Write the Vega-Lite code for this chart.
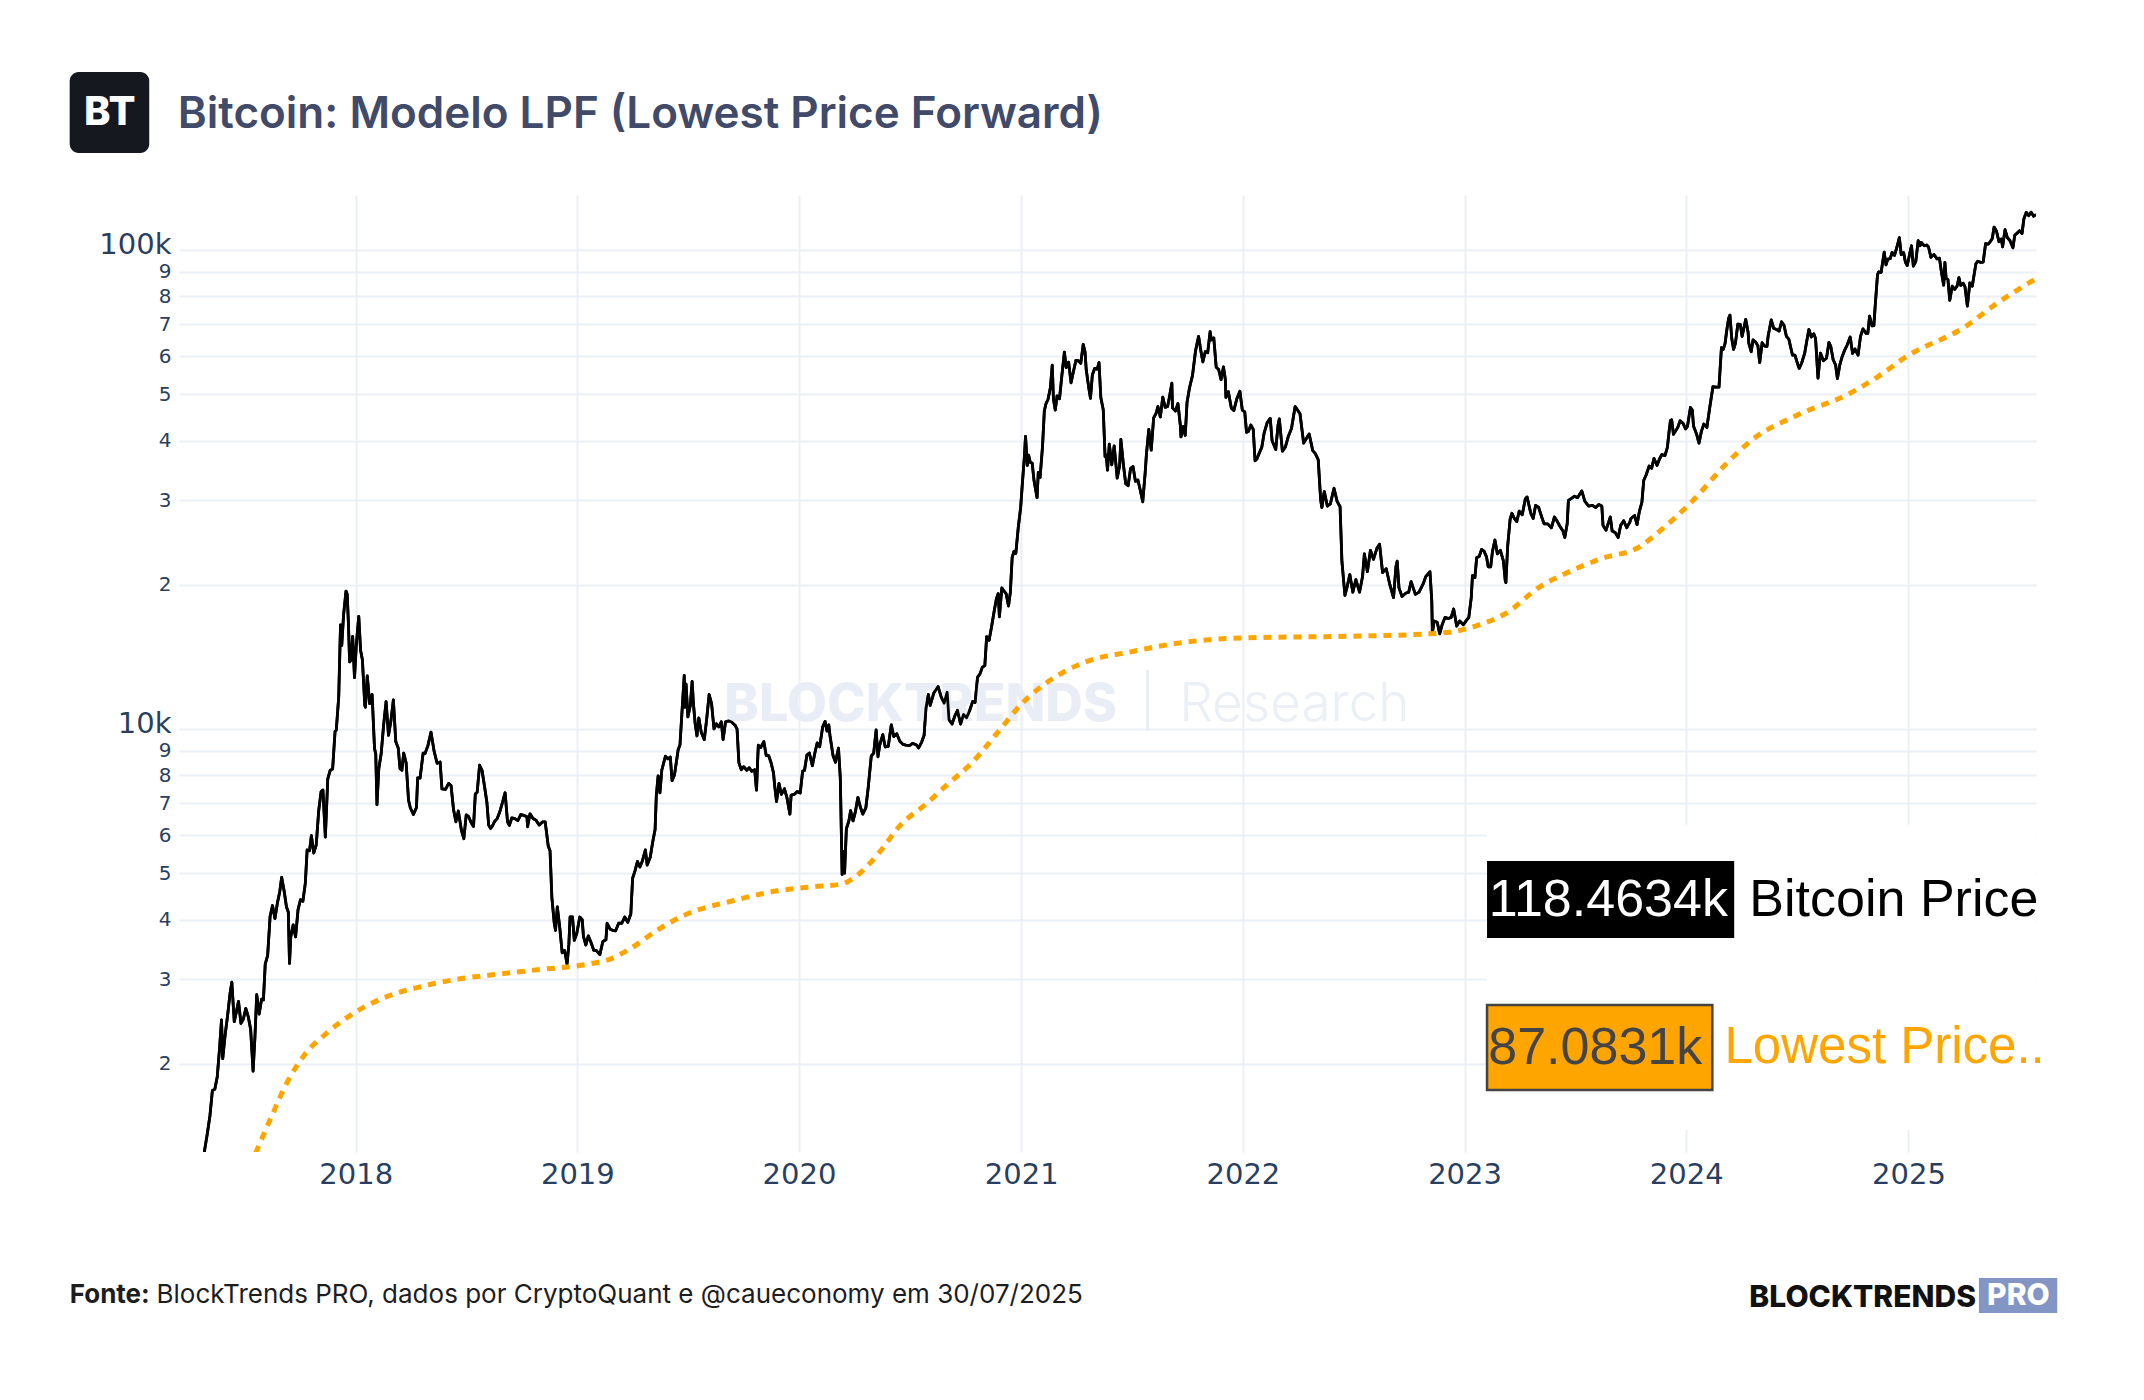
{
  "$schema": "https://vega.github.io/schema/vega-lite/v6.json",
  "width": 1857,
  "height": 957,
  "autosize": {"type": "none"},
  "padding": {"left": 179, "top": 195, "right": 108, "bottom": 248},
  "background": "#ffffff",
  "config": {"view": {"stroke": null}},
  "datasets": {
    "btc": [
      {"d":"2017-04-24","p":1250},{"d":"2017-04-28","p":1340},{"d":"2017-05-02","p":1440},{"d":"2017-05-06","p":1560},{"d":"2017-05-10","p":1760},{"d":"2017-05-14","p":1770},{"d":"2017-05-18","p":1880},{"d":"2017-05-22","p":2170},{"d":"2017-05-25","p":2470},{"d":"2017-05-27","p":2050},{"d":"2017-05-31","p":2300},{"d":"2017-06-04","p":2520},{"d":"2017-06-08","p":2800},{"d":"2017-06-11","p":2960},{"d":"2017-06-15","p":2450},{"d":"2017-06-18","p":2550},{"d":"2017-06-22","p":2700},{"d":"2017-06-26","p":2430},{"d":"2017-06-30","p":2480},{"d":"2017-07-04","p":2610},{"d":"2017-07-08","p":2510},{"d":"2017-07-12","p":2360},{"d":"2017-07-16","p":1930},{"d":"2017-07-19","p":2270},{"d":"2017-07-22","p":2790},{"d":"2017-07-26","p":2540},{"d":"2017-07-30","p":2730},{"d":"2017-08-02","p":2720},{"d":"2017-08-05","p":3230},{"d":"2017-08-09","p":3370},{"d":"2017-08-13","p":4060},{"d":"2017-08-17","p":4280},{"d":"2017-08-21","p":4020},{"d":"2017-08-25","p":4330},{"d":"2017-08-29","p":4580},{"d":"2017-09-01","p":4900},{"d":"2017-09-05","p":4600},{"d":"2017-09-09","p":4250},{"d":"2017-09-12","p":4150},{"d":"2017-09-14","p":3240},{"d":"2017-09-16","p":3680},{"d":"2017-09-20","p":3900},{"d":"2017-09-24","p":3680},{"d":"2017-09-28","p":4190},{"d":"2017-10-02","p":4400},{"d":"2017-10-06","p":4370},{"d":"2017-10-10","p":4760},{"d":"2017-10-13","p":5590},{"d":"2017-10-17","p":5570},{"d":"2017-10-20","p":5990},{"d":"2017-10-24","p":5510},{"d":"2017-10-28","p":5730},{"d":"2017-11-01","p":6740},{"d":"2017-11-05","p":7400},{"d":"2017-11-08","p":7460},{"d":"2017-11-12","p":5950},{"d":"2017-11-16","p":7870},{"d":"2017-11-20","p":8200},{"d":"2017-11-24","p":8250},{"d":"2017-11-28","p":9890},{"d":"2017-11-30","p":9940},{"d":"2017-12-04","p":11650},{"d":"2017-12-07","p":16500},{"d":"2017-12-09","p":14950},{"d":"2017-12-12","p":17280},{"d":"2017-12-16","p":19400},{"d":"2017-12-18","p":19100},{"d":"2017-12-20","p":16600},{"d":"2017-12-22","p":13800},{"d":"2017-12-24","p":13900},{"d":"2017-12-27","p":15600},{"d":"2017-12-30","p":12800},
      {"d":"2018-01-02","p":14980},{"d":"2018-01-06","p":17180},{"d":"2018-01-09","p":14600},{"d":"2018-01-12","p":13950},{"d":"2018-01-16","p":11180},{"d":"2018-01-17","p":11100},{"d":"2018-01-20","p":12900},{"d":"2018-01-24","p":11300},{"d":"2018-01-28","p":11800},{"d":"2018-02-01","p":9100},{"d":"2018-02-03","p":8870},{"d":"2018-02-05","p":6950},{"d":"2018-02-08","p":8260},{"d":"2018-02-12","p":8900},{"d":"2018-02-16","p":10200},{"d":"2018-02-20","p":11400},{"d":"2018-02-24","p":9700},{"d":"2018-02-28","p":10400},{"d":"2018-03-04","p":11500},{"d":"2018-03-08","p":9400},{"d":"2018-03-12","p":9130},{"d":"2018-03-15","p":8260},{"d":"2018-03-18","p":8200},{"d":"2018-03-21","p":8900},{"d":"2018-03-25","p":8500},{"d":"2018-03-29","p":7100},{"d":"2018-04-01","p":6840},{"d":"2018-04-06","p":6630},{"d":"2018-04-11","p":6850},{"d":"2018-04-13","p":7900},{"d":"2018-04-17","p":7900},{"d":"2018-04-22","p":8900},{"d":"2018-04-25","p":8880},{"d":"2018-04-30","p":9240},{"d":"2018-05-05","p":9850},{"d":"2018-05-10","p":9000},{"d":"2018-05-15","p":8480},{"d":"2018-05-20","p":8530},{"d":"2018-05-23","p":7500},{"d":"2018-05-29","p":7480},{"d":"2018-06-03","p":7700},{"d":"2018-06-07","p":7620},{"d":"2018-06-11","p":6800},{"d":"2018-06-15","p":6400},{"d":"2018-06-19","p":6740},{"d":"2018-06-24","p":6150},{"d":"2018-06-28","p":5900},{"d":"2018-07-02","p":6620},{"d":"2018-07-06","p":6560},{"d":"2018-07-10","p":6380},{"d":"2018-07-14","p":6260},{"d":"2018-07-17","p":7320},{"d":"2018-07-20","p":7370},{"d":"2018-07-24","p":8400},{"d":"2018-07-28","p":8200},{"d":"2018-08-01","p":7600},{"d":"2018-08-05","p":7030},{"d":"2018-08-08","p":6300},{"d":"2018-08-11","p":6200},{"d":"2018-08-14","p":6270},{"d":"2018-08-18","p":6420},{"d":"2018-08-22","p":6500},{"d":"2018-08-26","p":6700},{"d":"2018-08-30","p":6980},{"d":"2018-09-04","p":7360},{"d":"2018-09-08","p":6400},{"d":"2018-09-11","p":6290},{"d":"2018-09-15","p":6520},{"d":"2018-09-20","p":6500},{"d":"2018-09-25","p":6440},{"d":"2018-09-30","p":6630},{"d":"2018-10-05","p":6600},{"d":"2018-10-10","p":6560},{"d":"2018-10-11","p":6250},{"d":"2018-10-15","p":6650},{"d":"2018-10-20","p":6500},{"d":"2018-10-25","p":6450},{"d":"2018-10-30","p":6300},{"d":"2018-11-05","p":6400},{"d":"2018-11-09","p":6400},{"d":"2018-11-14","p":5700},{"d":"2018-11-17","p":5570},{"d":"2018-11-19","p":4800},{"d":"2018-11-20","p":4450},{"d":"2018-11-24","p":3930},{"d":"2018-11-26","p":3800},{"d":"2018-11-29","p":4250},{"d":"2018-12-03","p":3850},{"d":"2018-12-07","p":3410},{"d":"2018-12-11","p":3450},{"d":"2018-12-15","p":3230},{"d":"2018-12-18","p":3550},{"d":"2018-12-20","p":4050},{"d":"2018-12-24","p":4050},{"d":"2018-12-27","p":3620},{"d":"2018-12-31","p":3740},
      {"d":"2019-01-05","p":4050},{"d":"2019-01-09","p":4000},{"d":"2019-01-11","p":3690},{"d":"2019-01-15","p":3540},{"d":"2019-01-19","p":3700},{"d":"2019-01-24","p":3570},{"d":"2019-01-28","p":3450},{"d":"2019-02-01","p":3450},{"d":"2019-02-07","p":3380},{"d":"2019-02-12","p":3600},{"d":"2019-02-17","p":3630},{"d":"2019-02-19","p":3930},{"d":"2019-02-24","p":3820},{"d":"2019-02-28","p":3800},{"d":"2019-03-05","p":3790},{"d":"2019-03-10","p":3930},{"d":"2019-03-15","p":3930},{"d":"2019-03-20","p":4050},{"d":"2019-03-25","p":3950},{"d":"2019-03-30","p":4110},{"d":"2019-04-02","p":4880},{"d":"2019-04-06","p":5060},{"d":"2019-04-10","p":5290},{"d":"2019-04-14","p":5150},{"d":"2019-04-18","p":5300},{"d":"2019-04-23","p":5590},{"d":"2019-04-26","p":5200},{"d":"2019-05-01","p":5400},{"d":"2019-05-05","p":5800},{"d":"2019-05-09","p":6170},{"d":"2019-05-11","p":7250},{"d":"2019-05-14","p":7980},{"d":"2019-05-17","p":7360},{"d":"2019-05-20","p":8200},{"d":"2019-05-26","p":8770},{"d":"2019-05-30","p":8660},{"d":"2019-06-03","p":8740},{"d":"2019-06-06","p":7800},{"d":"2019-06-10","p":8030},{"d":"2019-06-16","p":9050},{"d":"2019-06-19","p":9270},{"d":"2019-06-22","p":10700},{"d":"2019-06-26","p":12930},{"d":"2019-06-27","p":11100},{"d":"2019-06-29","p":12400},{"d":"2019-07-02","p":10600},{"d":"2019-07-06","p":11200},{"d":"2019-07-09","p":12570},{"d":"2019-07-11","p":11350},{"d":"2019-07-14","p":10250},{"d":"2019-07-17","p":9670},{"d":"2019-07-20","p":10540},{"d":"2019-07-24","p":9840},{"d":"2019-07-29","p":9500},{"d":"2019-08-02","p":10500},{"d":"2019-08-06","p":11800},{"d":"2019-08-10","p":11300},{"d":"2019-08-14","p":10000},{"d":"2019-08-18","p":10250},{"d":"2019-08-22","p":10100},{"d":"2019-08-26","p":10350},{"d":"2019-08-29","p":9500},{"d":"2019-09-02","p":10350},{"d":"2019-09-07","p":10400},{"d":"2019-09-12","p":10340},{"d":"2019-09-18","p":10170},{"d":"2019-09-21","p":9990},{"d":"2019-09-24","p":8500},{"d":"2019-09-28","p":8220},{"d":"2019-10-02","p":8340},{"d":"2019-10-07","p":8200},{"d":"2019-10-11","p":8300},{"d":"2019-10-15","p":8160},{"d":"2019-10-20","p":8220},{"d":"2019-10-23","p":7450},{"d":"2019-10-25","p":8660},{"d":"2019-10-26","p":9250},{"d":"2019-10-30","p":9150},{"d":"2019-11-04","p":9410},{"d":"2019-11-08","p":8800},{"d":"2019-11-12","p":8800},{"d":"2019-11-16","p":8500},{"d":"2019-11-20","p":8100},{"d":"2019-11-22","p":7600},{"d":"2019-11-25","p":7050},{"d":"2019-11-29","p":7700},{"d":"2019-12-03","p":7300},{"d":"2019-12-08","p":7500},{"d":"2019-12-12","p":7200},{"d":"2019-12-17","p":6640},{"d":"2019-12-19","p":7280},{"d":"2019-12-24","p":7300},{"d":"2019-12-29","p":7400},
      {"d":"2020-01-03","p":7350},{"d":"2020-01-07","p":8170},{"d":"2020-01-10","p":8190},{"d":"2020-01-14","p":8820},{"d":"2020-01-18","p":8910},{"d":"2020-01-23","p":8380},{"d":"2020-01-27","p":8900},{"d":"2020-01-31","p":9350},{"d":"2020-02-04","p":9180},{"d":"2020-02-09","p":10100},{"d":"2020-02-13","p":10370},{"d":"2020-02-16","p":9900},{"d":"2020-02-19","p":10200},{"d":"2020-02-21","p":9690},{"d":"2020-02-26","p":8800},{"d":"2020-03-01","p":8520},{"d":"2020-03-06","p":9120},{"d":"2020-03-09","p":7900},{"d":"2020-03-12","p":4970},{"d":"2020-03-13","p":5560},{"d":"2020-03-16","p":5000},{"d":"2020-03-19","p":6190},{"d":"2020-03-23","p":6420},{"d":"2020-03-26","p":6750},{"d":"2020-03-30","p":6430},{"d":"2020-04-03","p":6730},{"d":"2020-04-07","p":7200},{"d":"2020-04-11","p":6870},{"d":"2020-04-15","p":6640},{"d":"2020-04-20","p":6840},{"d":"2020-04-24","p":7550},{"d":"2020-04-29","p":8780},{"d":"2020-05-03","p":8900},{"d":"2020-05-07","p":9950},{"d":"2020-05-10","p":8750},{"d":"2020-05-13","p":9270},{"d":"2020-05-18","p":9730},{"d":"2020-05-22","p":9170},{"d":"2020-05-27","p":9200},{"d":"2020-06-01","p":10200},{"d":"2020-06-05","p":9640},{"d":"2020-06-10","p":9770},{"d":"2020-06-15","p":9430},{"d":"2020-06-20","p":9290},{"d":"2020-06-25","p":9250},{"d":"2020-07-01","p":9230},{"d":"2020-07-06","p":9330},{"d":"2020-07-12","p":9270},{"d":"2020-07-16","p":9130},{"d":"2020-07-21","p":9390},{"d":"2020-07-25","p":9700},{"d":"2020-07-28","p":11050},{"d":"2020-08-01","p":11800},{"d":"2020-08-04","p":11200},{"d":"2020-08-10","p":11890},{"d":"2020-08-17","p":12260},{"d":"2020-08-22","p":11680},{"d":"2020-08-27","p":11320},{"d":"2020-09-01","p":11930},{"d":"2020-09-04","p":10460},{"d":"2020-09-09","p":10240},{"d":"2020-09-14","p":10680},{"d":"2020-09-18","p":10940},{"d":"2020-09-23","p":10240},{"d":"2020-09-28","p":10720},{"d":"2020-10-03","p":10550},{"d":"2020-10-08","p":10930},{"d":"2020-10-13","p":11420},{"d":"2020-10-17","p":11360},{"d":"2020-10-21","p":12820},{"d":"2020-10-25","p":13030},{"d":"2020-10-29","p":13460},{"d":"2020-11-02","p":13560},{"d":"2020-11-05","p":15590},{"d":"2020-11-09","p":15310},{"d":"2020-11-13","p":16320},{"d":"2020-11-18","p":17800},{"d":"2020-11-21","p":18680},{"d":"2020-11-24","p":19170},{"d":"2020-11-26","p":17150},{"d":"2020-11-30","p":19700},{"d":"2020-12-03","p":19450},{"d":"2020-12-07","p":19170},{"d":"2020-12-11","p":18060},{"d":"2020-12-14","p":19280},{"d":"2020-12-17","p":22800},{"d":"2020-12-20","p":23480},{"d":"2020-12-23","p":23240},{"d":"2020-12-27","p":26300},{"d":"2020-12-31","p":29000},
      {"d":"2021-01-03","p":32780},{"d":"2021-01-06","p":36770},{"d":"2021-01-08","p":40800},{"d":"2021-01-11","p":35500},{"d":"2021-01-13","p":37300},{"d":"2021-01-16","p":36000},{"d":"2021-01-19","p":35900},{"d":"2021-01-22","p":33000},{"d":"2021-01-27","p":30400},{"d":"2021-01-29","p":34300},{"d":"2021-02-01","p":33500},{"d":"2021-02-05","p":38900},{"d":"2021-02-08","p":46200},{"d":"2021-02-11","p":47900},{"d":"2021-02-14","p":48700},{"d":"2021-02-18","p":51600},{"d":"2021-02-21","p":57500},{"d":"2021-02-23","p":48800},{"d":"2021-02-26","p":46300},{"d":"2021-03-01","p":49600},{"d":"2021-03-05","p":48900},{"d":"2021-03-09","p":54900},{"d":"2021-03-13","p":61200},{"d":"2021-03-16","p":56800},{"d":"2021-03-20","p":58300},{"d":"2021-03-24","p":52800},{"d":"2021-03-28","p":55800},{"d":"2021-04-01","p":58800},{"d":"2021-04-05","p":58700},{"d":"2021-04-09","p":58000},{"d":"2021-04-13","p":63500},{"d":"2021-04-16","p":61300},{"d":"2021-04-18","p":56200},{"d":"2021-04-22","p":51700},{"d":"2021-04-25","p":49000},{"d":"2021-04-28","p":54800},{"d":"2021-05-02","p":56600},{"d":"2021-05-06","p":56400},{"d":"2021-05-09","p":58200},{"d":"2021-05-12","p":49200},{"d":"2021-05-16","p":46400},{"d":"2021-05-19","p":37000},{"d":"2021-05-21","p":37300},{"d":"2021-05-23","p":34700},{"d":"2021-05-26","p":39300},{"d":"2021-05-30","p":35600},{"d":"2021-06-03","p":39000},{"d":"2021-06-08","p":33400},{"d":"2021-06-12","p":35500},{"d":"2021-06-14","p":40200},{"d":"2021-06-18","p":35800},{"d":"2021-06-22","p":32500},{"d":"2021-06-26","p":32200},{"d":"2021-06-30","p":35000},{"d":"2021-07-04","p":35300},{"d":"2021-07-08","p":32900},{"d":"2021-07-12","p":33100},{"d":"2021-07-16","p":31500},{"d":"2021-07-20","p":29800},{"d":"2021-07-24","p":34200},{"d":"2021-07-26","p":37300},{"d":"2021-07-30","p":42200},{"d":"2021-08-03","p":38200},{"d":"2021-08-07","p":44600},{"d":"2021-08-11","p":45600},{"d":"2021-08-14","p":47100},{"d":"2021-08-18","p":44800},{"d":"2021-08-22","p":49300},{"d":"2021-08-26","p":46900},{"d":"2021-08-30","p":47100},{"d":"2021-09-02","p":49300},{"d":"2021-09-06","p":52700},{"d":"2021-09-07","p":46800},{"d":"2021-09-12","p":46100},{"d":"2021-09-16","p":47800},{"d":"2021-09-20","p":43000},{"d":"2021-09-21","p":40700},{"d":"2021-09-25","p":42800},{"d":"2021-09-28","p":41000},{"d":"2021-10-01","p":48100},{"d":"2021-10-05","p":51500},{"d":"2021-10-10","p":54700},{"d":"2021-10-15","p":61600},{"d":"2021-10-20","p":66000},{"d":"2021-10-24","p":61300},{"d":"2021-10-27","p":58400},{"d":"2021-10-31","p":61300},{"d":"2021-11-04","p":61000},{"d":"2021-11-08","p":67500},{"d":"2021-11-10","p":64900},{"d":"2021-11-14","p":65500},{"d":"2021-11-18","p":56900},{"d":"2021-11-22","p":56300},{"d":"2021-11-26","p":53600},{"d":"2021-11-30","p":57000},{"d":"2021-12-03","p":53700},{"d":"2021-12-04","p":49200},{"d":"2021-12-08","p":50600},{"d":"2021-12-13","p":46700},{"d":"2021-12-17","p":46200},{"d":"2021-12-22","p":48900},{"d":"2021-12-27","p":50700},{"d":"2021-12-31","p":46300},
      {"d":"2022-01-04","p":45900},{"d":"2022-01-07","p":41600},{"d":"2022-01-10","p":41800},{"d":"2022-01-14","p":43100},{"d":"2022-01-18","p":42200},{"d":"2022-01-21","p":36300},{"d":"2022-01-24","p":36600},{"d":"2022-01-28","p":37700},{"d":"2022-02-01","p":38700},{"d":"2022-02-05","p":41500},{"d":"2022-02-10","p":43600},{"d":"2022-02-15","p":44500},{"d":"2022-02-18","p":40000},{"d":"2022-02-24","p":38300},{"d":"2022-02-28","p":43200},{"d":"2022-03-02","p":44400},{"d":"2022-03-07","p":38000},{"d":"2022-03-12","p":38800},{"d":"2022-03-17","p":40900},{"d":"2022-03-22","p":42400},{"d":"2022-03-28","p":47100},{"d":"2022-04-01","p":46300},{"d":"2022-04-05","p":45500},{"d":"2022-04-11","p":39500},{"d":"2022-04-16","p":40500},{"d":"2022-04-20","p":41300},{"d":"2022-04-26","p":38100},{"d":"2022-04-30","p":37600},{"d":"2022-05-05","p":36500},{"d":"2022-05-09","p":30100},{"d":"2022-05-11","p":29000},{"d":"2022-05-15","p":31300},{"d":"2022-05-20","p":29200},{"d":"2022-05-25","p":29500},{"d":"2022-05-31","p":31800},{"d":"2022-06-05","p":29900},{"d":"2022-06-10","p":29100},{"d":"2022-06-13","p":22400},{"d":"2022-06-18","p":19000},{"d":"2022-06-22","p":19900},{"d":"2022-06-26","p":21000},{"d":"2022-07-01","p":19300},{"d":"2022-07-06","p":20500},{"d":"2022-07-12","p":19300},{"d":"2022-07-17","p":20800},{"d":"2022-07-20","p":23200},{"d":"2022-07-25","p":21300},{"d":"2022-07-30","p":23600},{"d":"2022-08-04","p":22600},{"d":"2022-08-10","p":23900},{"d":"2022-08-14","p":24300},{"d":"2022-08-19","p":21200},{"d":"2022-08-25","p":21600},{"d":"2022-08-31","p":20000},{"d":"2022-09-06","p":18800},{"d":"2022-09-10","p":21800},{"d":"2022-09-12","p":22400},{"d":"2022-09-15","p":19700},{"d":"2022-09-20","p":18900},{"d":"2022-09-26","p":19200},{"d":"2022-10-01","p":19300},{"d":"2022-10-05","p":20300},{"d":"2022-10-12","p":19100},{"d":"2022-10-18","p":19300},{"d":"2022-10-25","p":20100},{"d":"2022-10-29","p":20800},{"d":"2022-11-05","p":21300},{"d":"2022-11-08","p":18500},{"d":"2022-11-09","p":15900},{"d":"2022-11-12","p":16800},{"d":"2022-11-17","p":16700},{"d":"2022-11-21","p":15800},{"d":"2022-11-25","p":16500},{"d":"2022-11-30","p":17100},{"d":"2022-12-05","p":17000},{"d":"2022-12-10","p":17100},{"d":"2022-12-14","p":17800},{"d":"2022-12-19","p":16400},{"d":"2022-12-24","p":16800},{"d":"2022-12-30","p":16500},
      {"d":"2023-01-04","p":16850},{"d":"2023-01-08","p":17100},{"d":"2023-01-12","p":18800},{"d":"2023-01-14","p":20900},{"d":"2023-01-18","p":20700},{"d":"2023-01-21","p":22800},{"d":"2023-01-25","p":22900},{"d":"2023-01-29","p":23700},{"d":"2023-02-02","p":23500},{"d":"2023-02-06","p":22900},{"d":"2023-02-09","p":21800},{"d":"2023-02-13","p":21800},{"d":"2023-02-16","p":23500},{"d":"2023-02-20","p":24800},{"d":"2023-02-24","p":23200},{"d":"2023-03-01","p":23600},{"d":"2023-03-06","p":22400},{"d":"2023-03-09","p":20400},{"d":"2023-03-10","p":20200},{"d":"2023-03-13","p":24100},{"d":"2023-03-17","p":27400},{"d":"2023-03-20","p":28200},{"d":"2023-03-24","p":27500},{"d":"2023-03-28","p":27100},{"d":"2023-04-01","p":28500},{"d":"2023-04-06","p":28000},{"d":"2023-04-11","p":30200},{"d":"2023-04-14","p":30500},{"d":"2023-04-20","p":28200},{"d":"2023-04-24","p":27500},{"d":"2023-04-28","p":29300},{"d":"2023-05-03","p":29000},{"d":"2023-05-08","p":27700},{"d":"2023-05-12","p":26800},{"d":"2023-05-18","p":26800},{"d":"2023-05-24","p":26300},{"d":"2023-05-29","p":27700},{"d":"2023-06-02","p":27200},{"d":"2023-06-07","p":26500},{"d":"2023-06-12","p":25900},{"d":"2023-06-15","p":25100},{"d":"2023-06-19","p":26800},{"d":"2023-06-21","p":30000},{"d":"2023-06-26","p":30300},{"d":"2023-07-01","p":30600},{"d":"2023-07-06","p":30400},{"d":"2023-07-13","p":31400},{"d":"2023-07-18","p":29900},{"d":"2023-07-24","p":29200},{"d":"2023-07-30","p":29300},{"d":"2023-08-05","p":29000},{"d":"2023-08-10","p":29400},{"d":"2023-08-15","p":29200},{"d":"2023-08-17","p":26600},{"d":"2023-08-22","p":26000},{"d":"2023-08-29","p":27700},{"d":"2023-09-01","p":25900},{"d":"2023-09-06","p":25700},{"d":"2023-09-11","p":25100},{"d":"2023-09-15","p":26600},{"d":"2023-09-20","p":27200},{"d":"2023-09-25","p":26300},{"d":"2023-09-30","p":27000},{"d":"2023-10-02","p":27500},{"d":"2023-10-08","p":27900},{"d":"2023-10-12","p":26700},{"d":"2023-10-16","p":28500},{"d":"2023-10-20","p":29700},{"d":"2023-10-23","p":33000},{"d":"2023-10-27","p":33900},{"d":"2023-11-01","p":35400},{"d":"2023-11-05","p":35000},{"d":"2023-11-09","p":36700},{"d":"2023-11-14","p":35500},{"d":"2023-11-18","p":36600},{"d":"2023-11-22","p":37400},{"d":"2023-11-27","p":37200},{"d":"2023-12-01","p":38700},{"d":"2023-12-04","p":42000},{"d":"2023-12-06","p":44000},{"d":"2023-12-08","p":44200},{"d":"2023-12-11","p":41200},{"d":"2023-12-15","p":42000},{"d":"2023-12-18","p":42600},{"d":"2023-12-22","p":44000},{"d":"2023-12-27","p":43400},{"d":"2023-12-31","p":42300},
      {"d":"2024-01-03","p":42800},{"d":"2024-01-08","p":46900},{"d":"2024-01-11","p":46300},{"d":"2024-01-13","p":42900},{"d":"2024-01-18","p":41300},{"d":"2024-01-22","p":39500},{"d":"2024-01-26","p":41800},{"d":"2024-01-30","p":43300},{"d":"2024-02-04","p":42600},{"d":"2024-02-09","p":47100},{"d":"2024-02-14","p":51800},{"d":"2024-02-19","p":51700},{"d":"2024-02-24","p":51700},{"d":"2024-02-28","p":62500},{"d":"2024-03-02","p":62000},{"d":"2024-03-05","p":63800},{"d":"2024-03-08","p":68300},{"d":"2024-03-11","p":72100},{"d":"2024-03-13","p":73100},{"d":"2024-03-16","p":65300},{"d":"2024-03-19","p":62000},{"d":"2024-03-22","p":63800},{"d":"2024-03-26","p":70000},{"d":"2024-03-30","p":69900},{"d":"2024-04-02","p":66000},{"d":"2024-04-08","p":71600},{"d":"2024-04-12","p":67200},{"d":"2024-04-13","p":63900},{"d":"2024-04-17","p":61300},{"d":"2024-04-20","p":64900},{"d":"2024-04-24","p":64300},{"d":"2024-04-28","p":63100},{"d":"2024-05-01","p":58200},{"d":"2024-05-05","p":64000},{"d":"2024-05-09","p":63000},{"d":"2024-05-13","p":62900},{"d":"2024-05-15","p":66200},{"d":"2024-05-20","p":71400},{"d":"2024-05-24","p":68600},{"d":"2024-05-28","p":68300},{"d":"2024-06-02","p":67700},{"d":"2024-06-06","p":70800},{"d":"2024-06-10","p":69600},{"d":"2024-06-14","p":66000},{"d":"2024-06-18","p":65100},{"d":"2024-06-24","p":60300},{"d":"2024-06-28","p":60300},{"d":"2024-07-04","p":57000},{"d":"2024-07-05","p":56600},{"d":"2024-07-09","p":58000},{"d":"2024-07-14","p":60800},{"d":"2024-07-17","p":64000},{"d":"2024-07-21","p":68200},{"d":"2024-07-25","p":65800},{"d":"2024-07-29","p":66800},{"d":"2024-08-01","p":65300},{"d":"2024-08-05","p":54000},{"d":"2024-08-09","p":60900},{"d":"2024-08-14","p":58700},{"d":"2024-08-19","p":59400},{"d":"2024-08-23","p":64100},{"d":"2024-08-26","p":62900},{"d":"2024-08-30","p":59000},{"d":"2024-09-03","p":57500},{"d":"2024-09-06","p":53900},{"d":"2024-09-10","p":57600},{"d":"2024-09-14","p":60000},{"d":"2024-09-18","p":61800},{"d":"2024-09-22","p":63300},{"d":"2024-09-27","p":65800},{"d":"2024-10-01","p":60800},{"d":"2024-10-05","p":62100},{"d":"2024-10-10","p":60300},{"d":"2024-10-14","p":66000},{"d":"2024-10-18","p":68400},{"d":"2024-10-23","p":67000},{"d":"2024-10-26","p":67000},{"d":"2024-10-29","p":72700},{"d":"2024-11-02","p":69400},{"d":"2024-11-05","p":69500},{"d":"2024-11-07","p":75800},{"d":"2024-11-11","p":88700},{"d":"2024-11-13","p":90000},{"d":"2024-11-17","p":89800},{"d":"2024-11-22","p":98900},{"d":"2024-11-25","p":93100},{"d":"2024-11-28","p":95700},{"d":"2024-12-02","p":95900},{"d":"2024-12-05","p":98800},{"d":"2024-12-09","p":97400},{"d":"2024-12-13","p":101400},{"d":"2024-12-17","p":106100},{"d":"2024-12-20","p":97800},{"d":"2024-12-24","p":98700},{"d":"2024-12-27","p":94200},{"d":"2024-12-30","p":92800},
      {"d":"2025-01-03","p":98100},{"d":"2025-01-06","p":102000},{"d":"2025-01-09","p":92500},{"d":"2025-01-13","p":94500},{"d":"2025-01-17","p":104500},{"d":"2025-01-20","p":102000},{"d":"2025-01-22","p":103700},{"d":"2025-01-27","p":102000},{"d":"2025-01-31","p":102400},{"d":"2025-02-03","p":101400},{"d":"2025-02-07","p":96500},{"d":"2025-02-12","p":97800},{"d":"2025-02-17","p":95800},{"d":"2025-02-21","p":96100},{"d":"2025-02-25","p":88700},{"d":"2025-02-28","p":84400},{"d":"2025-03-02","p":94200},{"d":"2025-03-04","p":87200},{"d":"2025-03-07","p":86700},{"d":"2025-03-10","p":78500},{"d":"2025-03-14","p":84000},{"d":"2025-03-18","p":82700},{"d":"2025-03-22","p":84000},{"d":"2025-03-25","p":87500},{"d":"2025-03-28","p":84300},{"d":"2025-04-01","p":85200},{"d":"2025-04-04","p":83800},{"d":"2025-04-08","p":76300},{"d":"2025-04-12","p":85300},{"d":"2025-04-16","p":84000},{"d":"2025-04-22","p":93500},{"d":"2025-04-25","p":94700},{"d":"2025-04-30","p":94200},{"d":"2025-05-04","p":94300},{"d":"2025-05-08","p":103000},{"d":"2025-05-12","p":102800},{"d":"2025-05-15","p":103700},{"d":"2025-05-19","p":105600},{"d":"2025-05-22","p":111600},{"d":"2025-05-26","p":109400},{"d":"2025-05-30","p":104000},{"d":"2025-06-03","p":105400},{"d":"2025-06-05","p":101500},{"d":"2025-06-09","p":110200},{"d":"2025-06-13","p":106000},{"d":"2025-06-17","p":104600},{"d":"2025-06-22","p":101000},{"d":"2025-06-25","p":107300},{"d":"2025-06-29","p":108400},{"d":"2025-07-03","p":109600},{"d":"2025-07-07","p":108200},{"d":"2025-07-10","p":116000},{"d":"2025-07-14","p":119800},{"d":"2025-07-18","p":117900},{"d":"2025-07-22","p":119900},{"d":"2025-07-26","p":117600},{"d":"2025-07-30","p":118463}
    ],
    "lpf": [
      {"d":"2017-07-20","v":1300},{"d":"2017-08-15","v":1549},{"d":"2017-09-10","v":1828},{"d":"2017-10-07","v":2075},{"d":"2017-11-14","v":2317},{"d":"2018-01-01","v":2566},{"d":"2018-02-21","v":2762},{"d":"2018-04-15","v":2891},{"d":"2018-06-15","v":3000},{"d":"2018-08-29","v":3082},{"d":"2018-11-13","v":3158},{"d":"2018-12-21","v":3190},{"d":"2019-01-20","v":3230},{"d":"2019-02-26","v":3317},{"d":"2019-03-29","v":3477},{"d":"2019-05-13","v":3805},{"d":"2019-06-28","v":4095},{"d":"2019-09-12","v":4373},{"d":"2019-11-27","v":4593},{"d":"2020-01-20","v":4680},{"d":"2020-03-11","v":4745},{"d":"2020-03-25","v":4830},{"d":"2020-04-11","v":5010},{"d":"2020-05-12","v":5520},{"d":"2020-06-16","v":6300},{"d":"2020-07-27","v":6950},{"d":"2020-09-01","v":7650},{"d":"2020-10-11","v":8480},{"d":"2020-11-25","v":9900},{"d":"2021-01-02","v":11300},{"d":"2021-02-16","v":12600},{"d":"2021-04-17","v":13800},{"d":"2021-07-02","v":14500},{"d":"2021-09-15","v":15100},{"d":"2022-01-06","v":15500},{"d":"2022-06-06","v":15600},{"d":"2022-11-05","v":15800},{"d":"2022-12-28","v":16100},{"d":"2023-01-19","v":16400},{"d":"2023-03-09","v":17400},{"d":"2023-05-05","v":19800},{"d":"2023-06-19","v":21200},{"d":"2023-08-15","v":22700},{"d":"2023-10-16","v":24000},{"d":"2023-11-14","v":25600},{"d":"2024-01-10","v":29800},{"d":"2024-03-08","v":35900},{"d":"2024-04-18","v":40100},{"d":"2024-07-02","v":45200},{"d":"2024-09-27","v":50200},{"d":"2024-11-12","v":54400},{"d":"2024-12-28","v":59800},{"d":"2025-04-05","v":69200},{"d":"2025-05-27","v":77400},{"d":"2025-07-30","v":87083}
    ]
  },
  "layer": [
    {
      "data": {"name": "btc"},
      "mark": {"type": "line", "clip": true, "color": "#000000", "strokeWidth": 2.8, "strokeJoin": "round"},
      "encoding": {
        "x": {"field": "d", "type": "temporal",
          "scale": {"domain": [{"year": 2017, "month": 3, "date": 16}, {"year": 2025, "month": 7, "date": 30}], "nice": false},
          "axis": {"title": null, "values": [{"year": 2018, "month": 1, "date": 1}, {"year": 2019, "month": 1, "date": 1}, {"year": 2020, "month": 1, "date": 1}, {"year": 2021, "month": 1, "date": 1}, {"year": 2022, "month": 1, "date": 1}, {"year": 2023, "month": 1, "date": 1}, {"year": 2024, "month": 1, "date": 1}, {"year": 2025, "month": 1, "date": 1}],
            "format": "%Y", "labelFont": "DejaVu Sans", "labelFontSize": 29, "labelColor": "#2a3f5f", "ticks": false, "domain": false, "labelPadding": 8, "gridColor": "#ebf0f8", "gridWidth": 2, "labelFlush": false, "labelOverlap": false}},
        "y": {"field": "p", "type": "quantitative",
          "scale": {"type": "log", "domain": [1309, 130200], "nice": false},
          "axis": {"title": null, "values": [2000, 3000, 4000, 5000, 6000, 7000, 8000, 9000, 10000, 20000, 30000, 40000, 50000, 60000, 70000, 80000, 90000, 100000],
            "labelExpr": "datum.value == 100000 ? '100k' : datum.value == 10000 ? '10k' : datum.value < 10000 ? '' + (datum.value / 1000) : '' + (datum.value / 10000)",
            "labelFont": "DejaVu Sans",
            "labelFontSize": {"condition": {"test": "datum.value == 10000 || datum.value == 100000", "value": 29}, "value": 20},
            "labelOffset": {"condition": {"test": "datum.value == 10000 || datum.value == 100000", "value": -5}, "value": 0},
            "labelColor": "#2a3f5f", "ticks": false, "domain": false, "labelPadding": 8, "gridColor": "#ebf0f8", "gridWidth": 2, "labelOverlap": false, "labelFlush": false}}
      }
    },
    {
      "data": {"values": [{"a": "BLOCKTRENDS", "b": "Research"}]},
      "layer": [
        {"mark": {"type": "text", "font": "Inter", "fontWeight": 800, "fontSize": 52, "color": "#e9edf5", "align": "left", "baseline": "alphabetic"},
         "encoding": {"x": {"datum": {"year": 2019, "month": 8, "date": 31}, "type": "temporal"}, "y": {"datum": 10400, "type": "quantitative"}, "text": {"field": "a"}}},
        {"mark": {"type": "text", "font": "Inter", "fontWeight": 300, "fontSize": 53, "color": "#ebeff6", "align": "left", "baseline": "alphabetic"},
         "encoding": {"x": {"datum": {"year": 2021, "month": 9, "date": 18}, "type": "temporal"}, "y": {"datum": 10400, "type": "quantitative"}, "text": {"field": "b"}}},
        {"mark": {"type": "rule", "color": "#e9edf5", "strokeWidth": 3},
         "encoding": {"x": {"datum": {"year": 2021, "month": 7, "date": 28}, "type": "temporal"}, "y": {"datum": 13280, "type": "quantitative"}, "y2": {"datum": 9900}}}
      ]
    },
    {
      "data": {"name": "btc"},
      "mark": {"type": "line", "clip": true, "color": "#000000", "strokeWidth": 2.8, "strokeJoin": "round"},
      "encoding": {"x": {"field": "d", "type": "temporal"}, "y": {"field": "p", "type": "quantitative"}}
    },
    {
      "data": {"name": "lpf"},
      "mark": {"type": "line", "clip": true, "color": "#ffa500", "strokeWidth": 5, "strokeDash": [8, 7], "interpolate": "monotone"},
      "encoding": {"x": {"field": "d", "type": "temporal"}, "y": {"field": "v", "type": "quantitative"}}
    },
    {
      "data": {"values": [{"price": 118463.4, "lowest": 87083.1, "l1": "118.4634k", "l2": "87.0831k", "n1": "Bitcoin Price", "n2": "Lowest Price.."}]},
      "layer": [
        {"mark": {"type": "rect", "color": "#ffffff"},
         "encoding": {"x": {"datum": {"year": 2023, "month": 2, "date": 7}, "type": "temporal"}, "x2": {"datum": {"year": 2025, "month": 7, "date": 30}}, "y": {"datum": 6320, "type": "quantitative"}, "y2": {"datum": 1455}}},
        {"mark": {"type": "rect", "color": "#000000"},
         "encoding": {"x": {"datum": {"year": 2023, "month": 2, "date": 7}, "type": "temporal"}, "x2": {"datum": {"year": 2024, "month": 3, "date": 20}}, "y": {"datum": 5302, "type": "quantitative"}, "y2": {"datum": 3662}}},
        {"mark": {"type": "rect", "fill": "#ffa500", "stroke": "#444444", "strokeWidth": 2.5},
         "encoding": {"x": {"datum": {"year": 2023, "month": 2, "date": 7}, "type": "temporal"}, "x2": {"datum": {"year": 2024, "month": 2, "date": 13}}, "y": {"datum": 2653, "type": "quantitative"}, "y2": {"datum": 1763}}},
        {"mark": {"type": "text", "font": "Liberation Sans", "fontSize": 52, "color": "#ffffff", "align": "left", "baseline": "middle"},
         "encoding": {"x": {"datum": {"year": 2023, "month": 2, "date": 10}, "type": "temporal"}, "y": {"datum": 4397, "type": "quantitative"}, "text": {"field": "l1"}}},
        {"mark": {"type": "text", "font": "Liberation Sans", "fontSize": 52, "color": "#000000", "align": "left", "baseline": "middle"},
         "encoding": {"x": {"datum": {"year": 2024, "month": 4, "date": 14}, "type": "temporal"}, "y": {"datum": 4397, "type": "quantitative"}, "text": {"field": "n1"}}},
        {"mark": {"type": "text", "font": "Liberation Sans", "fontSize": 52, "color": "#444444", "align": "left", "baseline": "middle"},
         "encoding": {"x": {"datum": {"year": 2023, "month": 2, "date": 9}, "type": "temporal"}, "y": {"datum": 2158, "type": "quantitative"}, "text": {"field": "l2"}}},
        {"mark": {"type": "text", "font": "Liberation Sans", "fontSize": 51, "color": "#ffa500", "align": "left", "baseline": "middle"},
         "encoding": {"x": {"datum": {"year": 2024, "month": 3, "date": 4}, "type": "temporal"}, "y": {"datum": 2158, "type": "quantitative"}, "text": {"field": "n2"}}}
      ]
    },
    {
      "data": {"values": [{"title": "Bitcoin: Modelo LPF (Lowest Price Forward)", "bt": "BT", "f1": "Fonte:", "f2": "BlockTrends PRO, dados por CryptoQuant e @caueconomy em 30/07/2025", "b1": "BLOCKTRENDS", "b2": "PRO"}]},
      "layer": [
        {"mark": {"type": "text", "font": "Inter", "fontWeight": 600, "fontSize": 44, "color": "#414a68", "align": "left", "baseline": "alphabetic"},
         "encoding": {"x": {"datum": {"year": 2017, "month": 3, "date": 14}, "type": "temporal"}, "y": {"datum": 179400, "type": "quantitative"}, "text": {"field": "title"}}},
        {"mark": {"type": "rect", "color": "#16181f", "cornerRadius": 9},
         "encoding": {"x": {"datum": {"year": 2016, "month": 9, "date": 17}, "type": "temporal"}, "x2": {"datum": {"year": 2017, "month": 1, "date": 26}}, "y": {"datum": 235300, "type": "quantitative"}, "y2": {"datum": 159400}}},
        {"mark": {"type": "text", "font": "Inter", "fontWeight": 800, "fontSize": 40, "color": "#ffffff", "align": "center", "baseline": "middle"},
         "encoding": {"x": {"datum": {"year": 2016, "month": 11, "date": 22}, "type": "temporal"}, "y": {"datum": 193200, "type": "quantitative"}, "text": {"field": "bt"}}},
        {"mark": {"type": "text", "font": "Inter", "fontWeight": 700, "fontSize": 26, "color": "#1d1d1f", "align": "left", "baseline": "alphabetic"},
         "encoding": {"x": {"datum": {"year": 2016, "month": 9, "date": 17}, "type": "temporal"}, "y": {"datum": 633, "type": "quantitative"}, "text": {"field": "f1"}}},
        {"mark": {"type": "text", "font": "Inter", "fontWeight": 400, "fontSize": 26, "color": "#1d1d1f", "align": "left", "baseline": "alphabetic"},
         "encoding": {"x": {"datum": {"year": 2017, "month": 2, "date": 7}, "type": "temporal"}, "y": {"datum": 633, "type": "quantitative"}, "text": {"field": "f2"}}},
        {"mark": {"type": "text", "font": "Inter", "fontWeight": 800, "fontSize": 30, "color": "#111111", "align": "left", "baseline": "alphabetic"},
         "encoding": {"x": {"datum": {"year": 2024, "month": 4, "date": 14}, "type": "temporal"}, "y": {"datum": 621, "type": "quantitative"}, "text": {"field": "b1"}}},
        {"mark": {"type": "rect", "color": "#8295c5"},
         "encoding": {"x": {"datum": {"year": 2025, "month": 4, "date": 27}, "type": "temporal"}, "x2": {"datum": {"year": 2025, "month": 9, "date": 3}}, "y": {"datum": 714, "type": "quantitative"}, "y2": {"datum": 604}}},
        {"mark": {"type": "text", "font": "Inter", "fontWeight": 800, "fontSize": 30, "color": "#ffffff", "align": "center", "baseline": "middle"},
         "encoding": {"x": {"datum": {"year": 2025, "month": 7, "date": 1}, "type": "temporal"}, "y": {"datum": 655, "type": "quantitative"}, "text": {"field": "b2"}}}
      ]
    }
  ]
}
